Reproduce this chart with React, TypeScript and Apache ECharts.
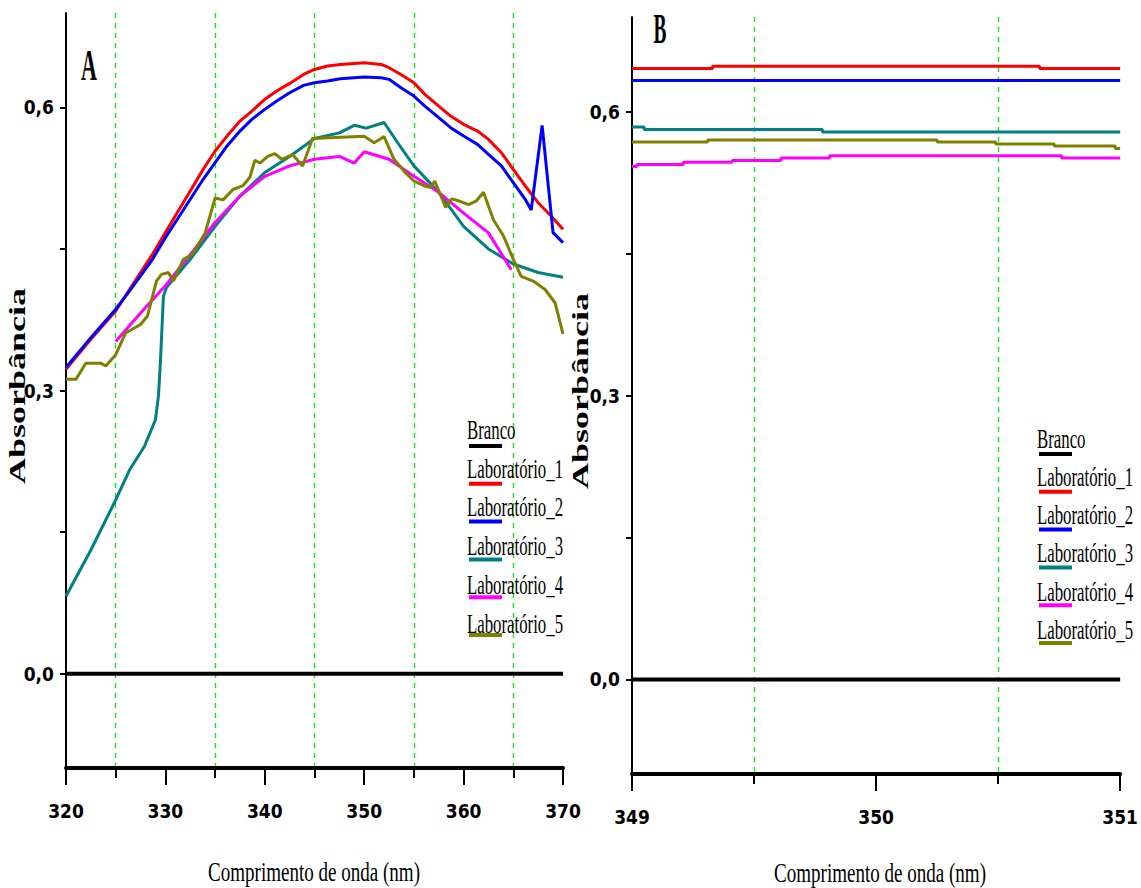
import React, { useEffect, useRef } from "react";
import * as echarts from "echarts";

// ---------- DATA ----------
const seriesNames = ["Branco", "Laboratório_1", "Laboratório_2", "Laboratório_3", "Laboratório_4", "Laboratório_5"];
const seriesColors = ["#000000", "#ff0000", "#0000ff", "#008080", "#ff00ff", "#808000"];

const yTickValues = [0, 0.15, 0.3, 0.45, 0.6];
const yLabelValues = [0, 0.3, 0.6];

// Panel A (320-370 nm)
const brancoA = [[320, 0], [370, 0]];
const lab1A = [
  [320, 0.3225], [322.5, 0.3543], [325, 0.3843], [326.4, 0.4073], [327.5, 0.4249], [328.6, 0.4426],
  [330, 0.4673], [331.2, 0.4885], [332.5, 0.5114], [333.8, 0.5343], [335, 0.5538], [336.2, 0.5696],
  [337.5, 0.5855], [338.7, 0.5961], [340, 0.6085], [341.2, 0.6173], [342.5, 0.6254], [343.9, 0.6349],
  [345, 0.6402], [346.3, 0.6438], [347.6, 0.6455], [350, 0.6473], [351.7, 0.6455], [352.5, 0.642],
  [353.7, 0.6349], [355, 0.6261], [356.1, 0.6138], [357.5, 0.6014], [358.7, 0.5908], [360, 0.582],
  [361.4, 0.5749], [362.5, 0.5661], [363.8, 0.552], [365, 0.5343], [366.2, 0.5167], [367.5, 0.499],
  [368.8, 0.4849], [370, 0.4708],
];
const lab2A = [
  [320, 0.3243], [322.5, 0.356], [325, 0.3861], [326.4, 0.4055], [327.5, 0.4214], [328.6, 0.4373],
  [330, 0.462], [331.2, 0.4814], [332.5, 0.5026], [333.8, 0.5238], [335, 0.5414], [336.2, 0.5591],
  [337.5, 0.5749], [338.7, 0.5873], [340, 0.5979], [341.2, 0.6067], [342.5, 0.6155], [343.9, 0.6233],
  [345, 0.6261], [346.3, 0.6279], [347.6, 0.6304], [350, 0.6321], [351.7, 0.6314], [352.5, 0.6297],
  [353.7, 0.6208], [355, 0.612], [356.1, 0.6014], [357.5, 0.5891], [358.7, 0.5785], [360, 0.5696],
  [361.4, 0.5608], [362.5, 0.5502], [363.8, 0.5379], [365, 0.5202], [366.2, 0.5026], [366.8, 0.4913],
  [367.9, 0.5809], [369, 0.4673], [370, 0.4567],
];
const lab3A = [
  [320, 0.082], [322.5, 0.131], [325, 0.184], [326.4, 0.216], [327.9, 0.241], [329, 0.269],
  [329.3, 0.294], [329.5, 0.33], [329.8, 0.4], [330.1, 0.409], [332.5, 0.439], [335, 0.474],
  [337.5, 0.506], [340, 0.531], [342.5, 0.548], [345, 0.567], [347.5, 0.573], [349, 0.581],
  [350.2, 0.578], [352, 0.584], [353.4, 0.562], [355, 0.538], [357.5, 0.51], [360, 0.474],
  [362.5, 0.45], [365, 0.434], [367.5, 0.425], [370, 0.42],
];
const lab4A = [
  [325, 0.352], [327.5, 0.382], [330, 0.411], [332.5, 0.444], [335, 0.478], [337.5, 0.506],
  [340, 0.527], [342.5, 0.538], [345, 0.545], [347.5, 0.548], [349, 0.541], [350, 0.553],
  [352.5, 0.545], [355, 0.527], [357.5, 0.51], [360, 0.488], [362.5, 0.467], [364.8, 0.428],
];
const lab5A = [
  [320, 0.312], [321, 0.312], [322, 0.329], [323.5, 0.329], [324, 0.326], [325, 0.338],
  [326, 0.361], [327.5, 0.37], [328.2, 0.379], [329.1, 0.416], [329.6, 0.423], [330.3, 0.425],
  [330.8, 0.416], [331.8, 0.439], [332.7, 0.444], [334, 0.467], [335, 0.504], [335.8, 0.502],
  [336.8, 0.513], [337.8, 0.517], [338.5, 0.526], [339, 0.544], [339.5, 0.541], [340.3, 0.548],
  [341, 0.551], [341.7, 0.545], [342.8, 0.55], [343.8, 0.538], [344.8, 0.567], [350, 0.5695],
  [351, 0.5625], [352, 0.569], [353, 0.545], [354, 0.5325], [355, 0.522], [356, 0.517],
  [356.7, 0.515], [357.1, 0.522], [358.2, 0.494], [358.8, 0.503], [359.5, 0.501], [360.5, 0.497],
  [361.3, 0.501], [362, 0.51], [363, 0.481], [364, 0.464], [365, 0.439], [365.8, 0.421],
  [367, 0.416], [368.2, 0.407], [369.2, 0.393], [370, 0.36],
];

// Panel B (349-351 nm)
const brancoB = [[349, 0], [351, 0]];
const lab1B = [[349, 0.6456], [349.33, 0.648], [350.67, 0.6456], [351, 0.6456]];
const lab2B = [[349, 0.633], [351, 0.633]];
const lab3B = [[349, 0.5838], [349.05, 0.581], [349.78, 0.5785], [351, 0.5785]];
const lab4B = [
  [349, 0.542], [349.02, 0.544], [349.21, 0.5466], [349.41, 0.5484], [349.61, 0.551],
  [349.81, 0.5534], [350.76, 0.551], [351, 0.551],
];
const lab5B = [
  [349, 0.568], [349.31, 0.57], [350.25, 0.568], [350.49, 0.5658], [350.73, 0.5636],
  [350.98, 0.561], [351, 0.561],
];

const panelAData = [brancoA, lab1A, lab2A, lab3A, lab4A, lab5A];
const panelBData = [brancoB, lab1B, lab2B, lab3B, lab4B, lab5B];

const xTitle = "Comprimento de onda (nm)";
const yTitle = "Absorbância";

// ---------- STYLE ----------
const tickFont = "'Liberation Sans Narrow', 'Arial Narrow', 'DejaVu Sans Condensed', 'Liberation Sans', Arial, sans-serif";
const serif = "'Liberation Serif', 'Times New Roman', serif";

function makeXAxis(gridIndex: number, min: number, max: number, interval: number) {
  return {
    gridIndex,
    type: "value",
    min,
    max,
    interval,
    axisLine: { show: true, onZero: false, lineStyle: { color: "#000", width: 4 } },
    axisTick: { show: true, length: 17, lineStyle: { color: "#000", width: 2 } },
    minorTick: { show: true, splitNumber: 2, length: 10, lineStyle: { color: "#000", width: 2 } },
    minorSplitLine: { show: true, lineStyle: { color: "#1fe01f", type: [5, 5], width: 1.4 } },
    splitLine: { show: false },
    axisLabel: {
      margin: 33,
      color: "#000",
      fontFamily: tickFont,
      fontWeight: "bold",
      fontSize: 19,
      formatter: (v: number) => String(v),
    },
  };
}

function makeYAxis(gridIndex: number) {
  return {
    gridIndex,
    type: "value",
    min: -0.1,
    max: 0.7,
    axisLine: { show: true, onZero: false, lineStyle: { color: "#000", width: 2 } },
    axisTick: { show: true, customValues: yTickValues, length: 6, lineStyle: { color: "#000", width: 2 } },
    splitLine: { show: false },
    axisLabel: {
      customValues: yLabelValues,
      margin: 12,
      color: "#000",
      fontFamily: tickFont,
      fontWeight: "bold",
      fontSize: 19,
      formatter: (v: number) => v.toFixed(1).replace(".", ","),
    },
  };
}

function makeSeries(data: number[][][], axisIndex: number, step: boolean) {
  return data.map((d, i) => ({
    name: seriesNames[i],
    type: "line",
    xAxisIndex: axisIndex,
    yAxisIndex: axisIndex,
    data: d,
    showSymbol: false,
    symbol: "none",
    step: step ? "end" : false,
    clip: true,
    z: i === 0 ? 3 : 2,
    lineStyle: { color: seriesColors[i], width: i === 0 ? 4 : 3 },
  }));
}

function legendGraphics(x: number, textTop: number, textStep: number, lineTop: number, lineStep: number) {
  const els: any[] = [];
  seriesNames.forEach((name, i) => {
    els.push({
      type: "text",
      x,
      y: textTop + i * textStep,
      scaleX: 0.6,
      z: 10,
      style: {
        text: name,
        font: `28px ${serif}`,
        fill: "#000",
        textAlign: "left",
        textVerticalAlign: "middle",
      },
    });
    els.push({
      type: "line",
      z: 10,
      shape: { x1: x + 2, y1: lineTop + i * lineStep, x2: x + 35, y2: lineTop + i * lineStep },
      style: { stroke: seriesColors[i], lineWidth: 4 },
    });
  });
  return els;
}

function titleGraphics(cx: number, cy: number, nameX: number, nameY: number) {
  return [
    {
      type: "text",
      x: cx,
      y: cy,
      scaleX: 0.68,
      style: { text: xTitle, font: `28px ${serif}`, fill: "#000", textAlign: "center", textVerticalAlign: "middle" },
    },
    {
      type: "text",
      x: nameX,
      y: nameY,
      rotation: Math.PI / 2,
      scaleX: 1.5,
      style: { text: yTitle, font: `bold 24px ${serif}`, fill: "#000", textAlign: "center", textVerticalAlign: "middle" },
    },
  ];
}

export default function App() {
  const ref = useRef<HTMLDivElement>(null);

  useEffect(() => {
    if (!ref.current) return;
    const chart = echarts.init(ref.current, undefined, { renderer: "svg" });
    const option: any = {
      animation: false,
      backgroundColor: "#ffffff",
      grid: [
        { left: 66, top: 13, width: 497, height: 755 },
        { left: 632, top: 17, width: 496, height: 757 },
      ],
      xAxis: [makeXAxis(0, 320, 370, 10), makeXAxis(1, 349, 351, 1)],
      yAxis: [makeYAxis(0), makeYAxis(1)],
      series: [...makeSeries(panelAData, 0, false), ...makeSeries(panelBData, 1, true)],
      graphic: [
        {
          type: "text",
          x: 89,
          y: 65,
          scaleX: 0.5,
          style: { text: "A", font: `bold 44px ${serif}`, fill: "#000", textAlign: "center", textVerticalAlign: "middle" },
        },
        {
          type: "text",
          x: 660,
          y: 29,
          scaleX: 0.46,
          style: { text: "B", font: `bold 42px ${serif}`, fill: "#000", textAlign: "center", textVerticalAlign: "middle" },
        },
        ...titleGraphics(314, 872, 17, 386),
        ...titleGraphics(880, 873, 580, 391),
        ...legendGraphics(467, 429, 38.8, 446, 37.8),
        ...legendGraphics(1037, 438, 38.2, 454, 37.8),
      ],
    };
    chart.setOption(option);
    return () => chart.dispose();
  }, []);

  return (
    <div
      ref={ref}
      style={{ position: "absolute", left: 0, top: 0, width: 1141, height: 888, background: "#fff" }}
    />
  );
}
